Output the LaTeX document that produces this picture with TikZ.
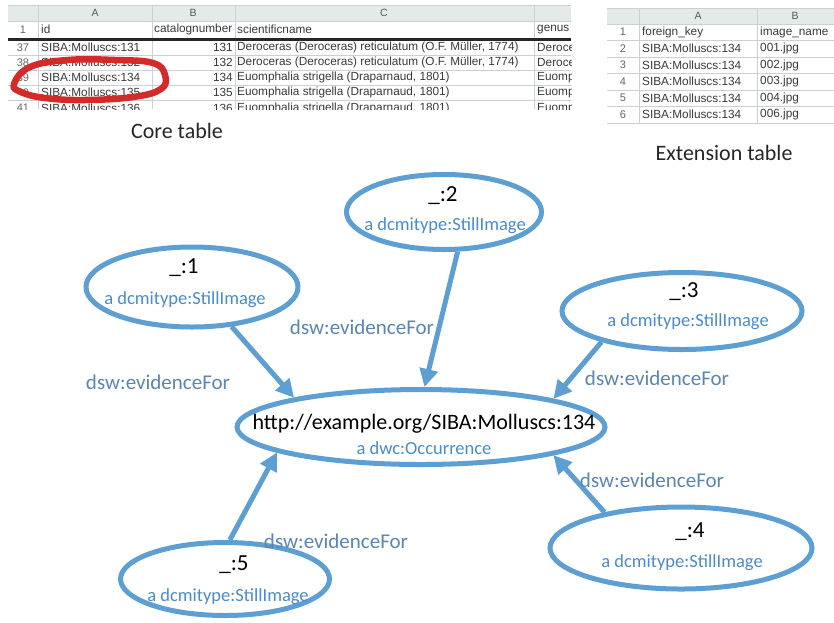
\documentclass[tikz,border=0pt]{standalone}
\usepackage{fontspec}
\setmainfont{Carlito}
\newfontfamily\cellfont{Liberation Sans}
\usetikzlibrary{shapes.geometric,arrows.meta}
\definecolor{nodeblue}{HTML}{5E9FD3}
\definecolor{labelblue}{HTML}{5A86B0}
\definecolor{subblue}{HTML}{4A8CCB}
\definecolor{gridc}{HTML}{C9D0D8}
\definecolor{hdr}{HTML}{E3EAE7}
\definecolor{celltext}{HTML}{3A3A3A}
\definecolor{scribble}{HTML}{D42A2A}
\begin{document}
\begin{tikzpicture}[x=1pt,y=-1pt,
  res/.style={ellipse, draw=nodeblue, line width=5pt, inner sep=0pt},
  rel/.style={draw=nodeblue, line width=5pt, -{Triangle[length=18pt,width=18pt]}},
  lbl/.style={text=labelblue, font=\fontsize{21}{24}\selectfont, inner sep=0pt},
  ttl/.style={font=\fontsize{23}{26}\selectfont, inner sep=0pt},
  sub/.style={font=\fontsize{18.5}{22}\selectfont, text=subblue, inner sep=0pt},
  cell/.style={font=\cellfont\fontsize{11.8}{13}\selectfont, text=celltext, inner sep=0pt, anchor=west},
  num/.style={cell, anchor=east},
  rown/.style={font=\cellfont\fontsize{11}{13}\selectfont, text=black!60, inner sep=0pt},
  colh/.style={font=\cellfont\fontsize{10.5}{12}\selectfont, text=black!65, inner sep=0pt},
  gridl/.style={draw=gridc, line width=0.8pt},
  caption/.style={font=\fontsize{22}{26}\selectfont, text=black!85, inner sep=0pt}
]
\useasboundingbox[fill=white] (0,0) rectangle (834,622);

% ---------------- core table ----------------
\begin{scope}
\clip (8,3) rectangle (571,109);
\fill[hdr] (8,5) rectangle (571,21);
\foreach \yy in {5,21,55,70,85,100} \draw[gridl] (8,\yy) -- (571,\yy);
\foreach \xx in {38,152,235,534} \draw[gridl] (\xx,5) -- (\xx,109);
\draw[black!85, line width=2.5pt] (8,39.5) -- (571,39.5);
\node[colh] (chA) at (95,13) {A};
\node[colh] (chB) at (193,13) {B};
\node[colh] (chC) at (384,13) {C};
\node[rown] (cr1) at (23,29.5) {1};
\node[cell] (c1a) at (41,29.5) {id};
\node[cell] (c1b) at (154,29.5) {catalognumber};
\node[cell] (c1c) at (237,29.5) {scientificname};
\node[cell] (c1d) at (537,29.5) {genus};
\foreach \r/\yy/\cid/\cn/\sn/\gn in {
  37/47.5/131/131/{Deroceras (Deroceras) reticulatum (O.F. Müller, 1774)}/Deroceras,
  38/62.5/132/132/{Deroceras (Deroceras) reticulatum (O.F. Müller, 1774)}/Deroceras,
  39/77.5/134/134/{Euomphalia strigella (Draparnaud, 1801)}/Euomphalia,
  40/92.5/135/135/{Euomphalia strigella (Draparnaud, 1801)}/Euomphalia,
  41/108/136/136/{Euomphalia strigella (Draparnaud, 1801)}/Euomphalia}{
  \node[rown] (cr\r) at (23,\yy) {\r};
  \node[cell] (ca\r) at (41,\yy) {SIBA:Molluscs:\cid};
  \node[num] (cb\r) at (233,\yy) {\cn};
  \node[cell] (cc\r) at (237,\yy) {\sn};
  \node[cell] (cd\r) at (537,\yy) {\gn};
}
\end{scope}
% red scribble
\draw[scribble, line width=6.5pt, line join=round] plot[smooth cycle, tension=0.7] coordinates
  {(14,84) (30,67) (68,60) (115,60) (153,63) (165,75) (161,89) (133,97) (85,100) (45,98) (21,92)};
\node[caption] (coret) at (177,131) {Core table};

% ---------------- extension table ----------------
\begin{scope}
\clip (607,6) rectangle (834,124);
\fill[hdr] (607,8) rectangle (834,24);
\foreach \yy in {8,24,40.5,57,73.5,90,106.5,123} \draw[gridl] (607,\yy) -- (834,\yy);
\foreach \xx in {639,757} \draw[gridl] (\xx,8) -- (\xx,124);
\node[colh] (ehA) at (698,16) {A};
\node[colh] (ehB) at (795,16) {B};
\node[rown] (er1) at (623,32.2) {1};
\node[cell] (e1a) at (642,32.2) {foreign\_key};
\node[cell] (e1b) at (760,32.2) {image\_name};
\foreach \r/\yy/\img in {2/48.7/001, 3/65.2/002, 4/81.7/003, 5/98.2/004, 6/114.7/006}{
  \node[rown] (er\r) at (623,\yy) {\r};
  \node[cell] (ea\r) at (642,\yy) {SIBA:Molluscs:134};
  \node[cell] (eb\r) at (760,\yy) {\img.jpg};
}
\end{scope}
\node[caption] (extt) at (724,153) {Extension table};

% ---------------- RDF graph ----------------
\node[res, minimum width=368pt, minimum height=75pt] (occ) at (421,427) {};
\node[ttl, font=\fontsize{22}{26}\selectfont] (occt) at (424,424) {http://example.org/SIBA:Molluscs:134};
\node[sub] (occs) at (424,448) {a dwc:Occurrence};

\foreach \n/\cx/\cy/\w/\h/\tx/\ty/\sx/\sy in {
  1/192/287/212/80/184/268/185/300,
  2/444/212/195/75/443/196/445/226,
  3/682/311/240/77/684/292/688/322,
  4/681/548/262/82/690/532/682/563,
  5/225/579/209/73/234/565/228/597}{
  \node[res, minimum width=\w pt, minimum height=\h pt] (i\n) at (\cx,\cy) {};
  \node[ttl] (i\n t) at (\tx,\ty) {\_:\n};
  \node[sub] (i\n s) at (\sx,\sy) {a dcmitype:StillImage};
}

\draw[rel] (i1.-45) -- (occ.167);
\draw[rel] (i2.-71) -- (occ.85);
\draw[rel] (i3.201) -- (occ.12);
\draw[rel] (i4.155) -- (occ.-12);
\draw[rel] (i5.83) -- (occ.-170);

\node[lbl] (l1) at (158,382) {dsw:evidenceFor};
\node[lbl] (l2) at (362,327) {dsw:evidenceFor};
\node[lbl] (l3) at (657,378) {dsw:evidenceFor};
\node[lbl] (l4) at (652,480) {dsw:evidenceFor};
\node[lbl] (l5) at (336,541) {dsw:evidenceFor};
\end{tikzpicture}
\end{document}
